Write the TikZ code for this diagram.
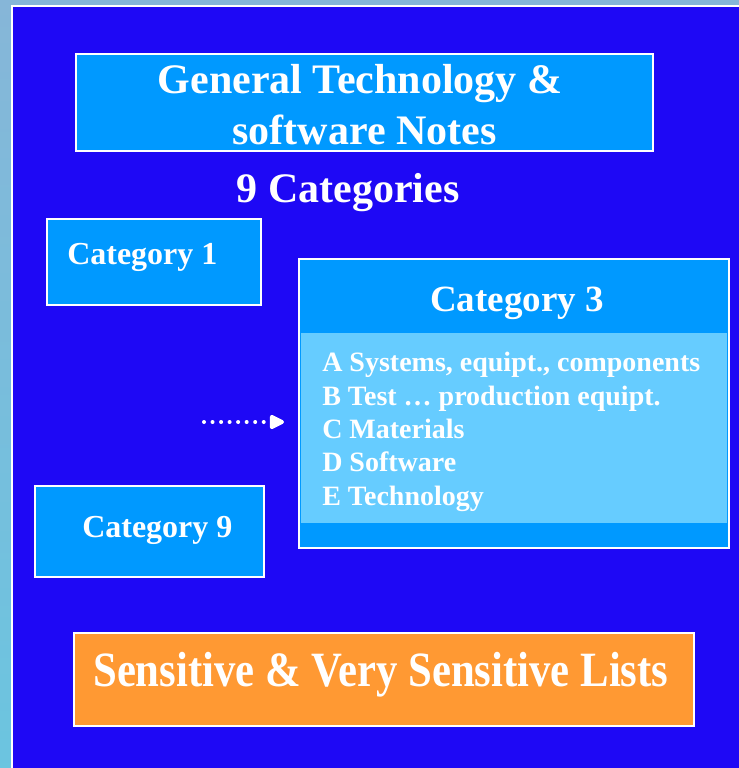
\documentclass[tikz,border=0pt]{standalone}
\usepackage{fontspec}
\setmainfont{Liberation Serif}
\usetikzlibrary{positioning, arrows.meta}

\definecolor{panelblue}{HTML}{1E08F5}
\definecolor{stripgrey}{HTML}{86B6D8}
\definecolor{boxblue}{HTML}{0099FF}
\definecolor{listblue}{HTML}{66CCFF}
\definecolor{listorange}{HTML}{FF9933}

\tikzset{
  catbox/.style={draw=white, line width=1.5pt, fill=boxblue, inner sep=0pt},
  cattext/.style={text=white, font=\bfseries\fontsize{24}{28}\selectfont, inner sep=0pt},
  headtext/.style={text=white, font=\bfseries\fontsize{31.5}{38.25}\selectfont, inner sep=0pt, align=center},
}

\begin{document}
\begin{tikzpicture}[x=0.75pt, y=-0.75pt]
\useasboundingbox (0,0) rectangle (739,768);
% backdrop
\shade[top color=stripgrey, bottom color=stripgrey!80!cyan] (0,0) rectangle (739,768);
\fill[panelblue] (12,6) rectangle (739,768);
\draw[white, line width=1.5pt] (12,768) |- (739,6);

% title
\node[catbox, minimum width=432.75pt, minimum height=72.75pt] (title) at (364.5,102.5) {};
\node[headtext, anchor=base] (titletext) at (360,93) {General Technology \&};
\node[headtext, anchor=base] (titletext2) at (364.5,144) {software Notes};
\node[headtext, anchor=base] (ncat) at (348,202) {9 Categories};

% category 1 and 9
\node[catbox, minimum width=160.5pt, minimum height=64.5pt] (cat1) at (154,262) {};
\node[cattext, anchor=base west] (cat1text) at (67,264) {Category 1};
\node[catbox, minimum width=171.75pt, minimum height=68.25pt] (cat9) at (149.5,531.5) {};
\node[cattext, anchor=base west] (cat9text) at (82,537) {Category 9};

% category 3
\node[catbox, minimum width=322.5pt, minimum height=216.75pt] (cat3) at (514,403.5) {};
\node[fill=listblue, inner sep=0pt, minimum width=319.5pt, minimum height=142.5pt, anchor=north] (cat3list) at (514,333) {};
\node[text=white, font=\bfseries\fontsize{27.75}{32}\selectfont, inner sep=0pt, anchor=base] (cat3text) at (517,311) {Category 3};
\node[text=white, font=\bfseries\fontsize{21}{25}\selectfont, inner sep=0pt, anchor=base west, align=left] (cat3items) at (322,505)
  {A Systems, equipt., components\\B Test \dots\ production equipt.\\C Materials\\D Software\\E Technology};

% pointer
\coordinate (pointer) at (204,422);
\draw[white, line width=3pt, line cap=round, dash pattern=on 0pt off 6.4pt,
  -{Triangle[length=12.75pt, width=11.5pt, round=false]}, shorten >=10.5pt] (pointer) -- (pointer -| cat3.west);

% sensitive lists
\node[draw=white, line width=1pt, fill=listorange, inner sep=0pt, minimum width=465pt, minimum height=69.75pt] (lists) at (384,679.5) {};
\node[text=white, font=\bfseries\fontsize{37}{42}\selectfont, inner sep=0pt, anchor=base west] (liststext) at (93,686)
  {\scalebox{0.866}[1]{Sensitive \& Very Sensitive Lists}};
\end{tikzpicture}
\end{document}
